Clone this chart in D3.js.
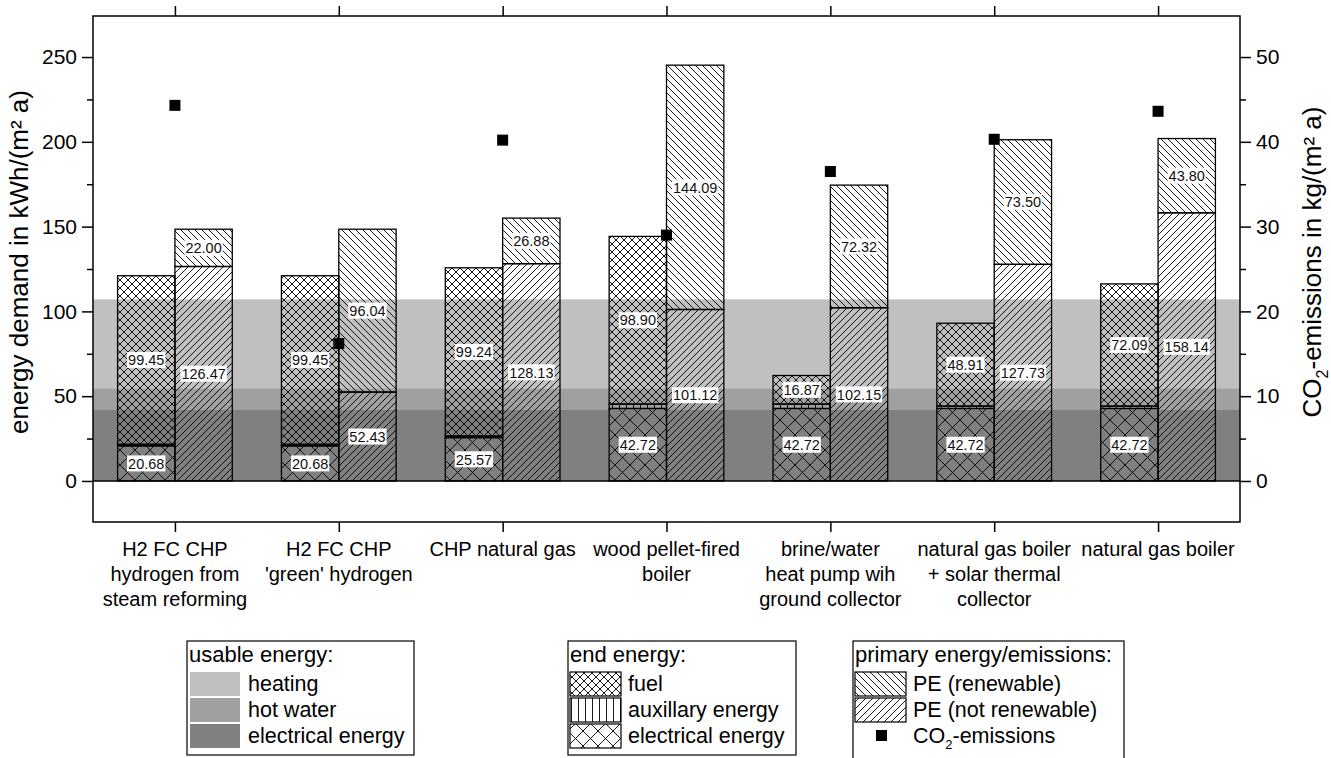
<!DOCTYPE html>
<html>
<head>
<meta charset="utf-8">
<script src="https://cdn.jsdelivr.net/npm/d3@7"></script>
<style>
    body { margin: 0; background: #fff; }
    svg { display: block; font-family: 'Liberation Sans', Arial, sans-serif; }
</style>
</head>
<body>
<div id="chart"></div>
<script>
// categories (one string per line of the axis label)
const categories = [
    ['H2 FC CHP', 'hydrogen from', 'steam reforming'],
    ['H2 FC CHP', '\'green\' hydrogen'],
    ['CHP natural gas'],
    ['wood pellet-fired', 'boiler'],
    ['brine/water', 'heat pump wih', 'ground collector'],
    ['natural gas boiler', '+ solar thermal', 'collector'],
    ['natural gas boiler'],
];

// usable energy (background bands), kWh/(m² a)
const usableLabels = ['heating', 'hot water', 'electrical energy'];
const usableValues = [52.4, 12.4, 42.3];

// end energy, kWh/(m² a)
const endElectrical = [20.68, 20.68, 25.57, 42.72, 42.72, 42.72, 42.72];
const endAuxiliary = [0.9, 0.9, 0.9, 2.6, 2.6, 1.4, 1.4];
const endFuel = [99.45, 99.45, 99.24, 98.90, 16.87, 48.91, 72.09];

// primary energy, kWh/(m² a)
const peNotRenewable = [126.47, 52.43, 128.13, 101.12, 102.15, 127.73, 158.14];
const peRenewable = [22.00, 96.04, 26.88, 144.09, 72.32, 73.50, 43.80];

// CO2 emissions, kg/(m² a)
const co2 = [44.3, 16.2, 40.2, 29.0, 36.5, 40.3, 43.6];

const leftTicks = [0, 50, 100, 150, 200, 250];
const leftMinor = [25, 75, 125, 175, 225];
const rightTicks = [0, 10, 20, 30, 40, 50];
const rightMinor = [5, 15, 25, 35, 45];

const endLabels = ['fuel', 'auxillary energy', 'electrical energy'];
const peLabels = ['PE (renewable)', 'PE (not renewable)'];

const W = 1331, H = 758;
const plot = { left: 93, right: 1240, top: 16, bottom: 522 };

const svg = d3.select('#chart').append('svg')
    .attr('width', W)
    .attr('height', H);

// hatch patterns
const defs = svg.append('defs');
function pattern(id, size, d) {
    defs.append('pattern')
        .attr('id', id)
        .attr('patternUnits', 'userSpaceOnUse')
        .attr('width', size)
        .attr('height', size)
        .append('path')
        .attr('d', d)
        .attr('stroke', '#000')
        .attr('stroke-width', 0.9)
        .attr('fill', 'none');
}
pattern('fuel', 8, 'M0,0L8,8M8,0L0,8');
pattern('elec', 15, 'M0,0L15,15M15,0L0,15');
pattern('aux', 7, 'M3.5,0V7');
pattern('ren', 7, 'M-1,-1L8,8M-1,6L1,8M6,-1L8,1');
pattern('nren', 7, 'M-1,8L8,-1M-1,1L1,-1M6,8L8,6');

// scales
const x = d3.scaleBand()
    .domain(d3.range(categories.length))
    .range([plot.left, plot.right]);
const y = d3.scaleLinear()
    .domain([-24.2, 274.2])
    .range([plot.bottom, plot.top]);
const y2 = d3.scaleLinear()
    .domain([-4.84, 54.84])
    .range([plot.bottom, plot.top]);

const barW = x.bandwidth() * 0.35;
const center = (i) => x(i) + x.bandwidth() / 2;

// usable energy bands (stacked from the bottom: electrical, hot water, heating)
const bandColors = ['#c0c0c0', '#a0a0a0', '#808080'];
let acc = 0;
const bands = usableValues.map((v, i) => ({ i, v })).reverse().map((d) => {
    const b = { lo: acc, hi: acc + d.v, color: bandColors[d.i] };
    acc += d.v;
    return b;
});
svg.append('g').selectAll('rect')
    .data(bands)
    .join('rect')
    .attr('x', plot.left)
    .attr('width', plot.right - plot.left)
    .attr('y', (d) => y(d.hi))
    .attr('height', (d) => y(d.lo) - y(d.hi))
    .attr('fill', (d) => d.color);

// stacked segments
const segments = [];
categories.forEach((c, i) => {
    const e0 = 0, e1 = endElectrical[i], e2 = e1 + endAuxiliary[i], e3 = e2 + endFuel[i];
    const left = center(i) - barW;
    segments.push({ x: left, lo: e0, hi: e1, fill: 'elec', label: endElectrical[i] });
    segments.push({ x: left, lo: e1, hi: e2, fill: 'aux' });
    segments.push({ x: left, lo: e2, hi: e3, fill: 'fuel', label: endFuel[i] });
    const p1 = peNotRenewable[i], p2 = p1 + peRenewable[i];
    segments.push({ x: center(i), lo: 0, hi: p1, fill: 'nren', label: peNotRenewable[i] });
    segments.push({ x: center(i), lo: p1, hi: p2, fill: 'ren', label: peRenewable[i] });
});

svg.append('g').selectAll('rect')
    .data(segments)
    .join('rect')
    .attr('x', (d) => d.x)
    .attr('width', barW)
    .attr('y', (d) => y(d.hi))
    .attr('height', (d) => y(d.lo) - y(d.hi))
    .attr('fill', (d) => `url(#${d.fill})`)
    .attr('stroke', '#000')
    .attr('stroke-width', 1.3);

// value labels with white boxes
const labels = svg.append('g').selectAll('g')
    .data(segments.filter((d) => d.label !== undefined))
    .join('g')
    .attr('transform', (d) => `translate(${d.x + barW / 2},${y((d.lo + d.hi) / 2)})`);
labels.append('rect').attr('fill', '#fff');
labels.append('text')
    .attr('text-anchor', 'middle')
    .attr('dy', '0.36em')
    .attr('font-size', 14.5)
    .attr('fill', '#111')
    .text((d) => d.label.toFixed(2));
labels.each(function () {
    const g = d3.select(this);
    const bb = g.select('text').node().getBBox();
    g.select('rect')
        .attr('x', bb.x - 1)
        .attr('y', -8)
        .attr('width', bb.width + 2)
        .attr('height', 16);
});

// CO2 markers
svg.append('g').selectAll('rect')
    .data(co2)
    .join('rect')
    .attr('x', (d, i) => center(i) - 5.5)
    .attr('y', (d) => y2(d) - 5.5)
    .attr('width', 11)
    .attr('height', 11)
    .attr('fill', '#000');

// frame
svg.append('rect')
    .attr('x', plot.left)
    .attr('y', plot.top)
    .attr('width', plot.right - plot.left)
    .attr('height', plot.bottom - plot.top)
    .attr('fill', 'none')
    .attr('stroke', '#000')
    .attr('stroke-width', 1.5);

// zero line
svg.append('line')
    .attr('x1', plot.left)
    .attr('x2', plot.right)
    .attr('y1', y(0))
    .attr('y2', y(0))
    .attr('stroke', '#000')
    .attr('stroke-width', 1.5);

// axes
function styleAxis(g) {
    g.select('.domain').remove();
    g.selectAll('.tick line').attr('stroke', '#000').attr('stroke-width', 1.5);
    g.selectAll('.tick text').attr('fill', '#000').attr('font-size', 21).attr('font-family', null);
}
svg.append('g')
    .attr('transform', `translate(${plot.left},0)`)
    .call(d3.axisLeft(y).tickValues(leftTicks).tickSize(11).tickPadding(5))
    .call(styleAxis);
svg.append('g')
    .attr('transform', `translate(${plot.left},0)`)
    .call(d3.axisLeft(y).tickValues(leftMinor).tickSize(6).tickFormat(''))
    .call(styleAxis);
svg.append('g')
    .attr('transform', `translate(${plot.right},0)`)
    .call(d3.axisRight(y2).tickValues(rightTicks).tickSize(11).tickPadding(5))
    .call(styleAxis);
svg.append('g')
    .attr('transform', `translate(${plot.right},0)`)
    .call(d3.axisRight(y2).tickValues(rightMinor).tickSize(6).tickFormat(''))
    .call(styleAxis);

const xc = d3.scalePoint().domain(d3.range(categories.length)).range([center(0), center(categories.length - 1)]);
svg.append('g')
    .attr('transform', `translate(0,${plot.bottom})`)
    .call(d3.axisBottom(xc).tickSize(10).tickFormat(''))
    .call(styleAxis);
svg.append('g')
    .attr('transform', `translate(0,${plot.top})`)
    .call(d3.axisTop(xc).tickSize(10).tickFormat(''))
    .call(styleAxis);

// category labels
svg.append('g').selectAll('text')
    .data(categories)
    .join('text')
    .attr('text-anchor', 'middle')
    .attr('font-size', 20)
    .attr('fill', '#000')
    .attr('transform', (d, i) => `translate(${center(i)},556)`)
    .selectAll('tspan')
    .data((d) => d)
    .join('tspan')
    .attr('x', 0)
    .attr('y', (d, j) => j * 25)
    .text((d) => d);

// axis titles
const titleY = 262;
svg.append('text')
    .attr('transform', `translate(28,${titleY}) rotate(-90)`)
    .attr('text-anchor', 'middle')
    .attr('font-size', 26)
    .text('energy demand in kWh/(m² a)');
const t2 = svg.append('text')
    .attr('transform', `translate(1321,${titleY}) rotate(-90)`)
    .attr('text-anchor', 'middle')
    .attr('font-size', 26);
t2.append('tspan').text('CO');
t2.append('tspan').text('2').attr('font-size', 16).attr('dy', 7);
t2.append('tspan').text('-emissions in kg/(m² a)').attr('dy', -7);

// legends
const legendFont = 21.5;
function legendBox(x0, w, h, title) {
    const g = svg.append('g').attr('transform', `translate(${x0},641)`);
    g.append('rect')
        .attr('width', w)
        .attr('height', h)
        .attr('fill', '#fff')
        .attr('stroke', '#000')
        .attr('stroke-width', 1.2);
    g.append('text')
        .attr('x', 2)
        .attr('y', 21)
        .attr('font-size', 22)
        .text(title);
    return g;
}
const rowY = (j) => 30 + j * 26;

const lg1 = legendBox(187, 227, 114, 'usable energy:');
lg1.selectAll('rect.sw')
    .data(usableLabels)
    .join('rect')
    .attr('class', 'sw')
    .attr('x', 3)
    .attr('y', (d, j) => rowY(j) + 1)
    .attr('width', 50)
    .attr('height', 24)
    .attr('fill', (d, j) => bandColors[j]);
lg1.selectAll('text.lb')
    .data(usableLabels)
    .join('text')
    .attr('class', 'lb')
    .attr('x', 61)
    .attr('y', (d, j) => rowY(j) + 20)
    .attr('font-size', legendFont)
    .text((d) => d);

const endFills = ['fuel', 'aux', 'elec'];
const lg2 = legendBox(568, 228, 114, 'end energy:');
lg2.selectAll('rect.sw')
    .data(endLabels)
    .join('rect')
    .attr('class', 'sw')
    .attr('x', 2)
    .attr('y', (d, j) => rowY(j) + 1)
    .attr('width', 51)
    .attr('height', 24)
    .attr('fill', (d, j) => `url(#${endFills[j]})`)
    .attr('stroke', '#000')
    .attr('stroke-width', 1.2);
lg2.selectAll('text.lb')
    .data(endLabels)
    .join('text')
    .attr('class', 'lb')
    .attr('x', 60)
    .attr('y', (d, j) => rowY(j) + 20)
    .attr('font-size', legendFont)
    .text((d) => d);

const peFills = ['ren', 'nren'];
const lg3 = legendBox(853, 271, 130, 'primary energy/emissions:');
lg3.selectAll('rect.sw')
    .data(peLabels)
    .join('rect')
    .attr('class', 'sw')
    .attr('x', 2)
    .attr('y', (d, j) => rowY(j) + 1)
    .attr('width', 51)
    .attr('height', 24)
    .attr('fill', (d, j) => `url(#${peFills[j]})`)
    .attr('stroke', '#000')
    .attr('stroke-width', 1.2);
lg3.selectAll('text.lb')
    .data(peLabels)
    .join('text')
    .attr('class', 'lb')
    .attr('x', 60)
    .attr('y', (d, j) => rowY(j) + 20)
    .attr('font-size', legendFont)
    .text((d) => d);
lg3.append('rect')
    .attr('x', 23)
    .attr('y', rowY(2) + 7)
    .attr('width', 11)
    .attr('height', 11)
    .attr('fill', '#000');
const co2t = lg3.append('text')
    .attr('x', 60)
    .attr('y', rowY(2) + 20)
    .attr('font-size', legendFont);
co2t.append('tspan').text('CO');
co2t.append('tspan').text('2').attr('font-size', 13).attr('dy', 6);
co2t.append('tspan').text('-emissions').attr('dy', -6);
</script>
</body>
</html>
